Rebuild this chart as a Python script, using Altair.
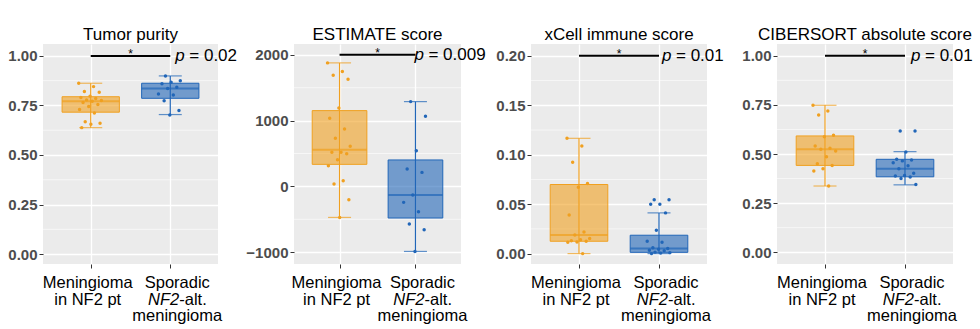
import altair as alt
import pandas as pd

# ---------------- data ----------------
group_keys = ["g1", "g2"]
titles = ["Tumor purity", "ESTIMATE score", "xCell immune score", "CIBERSORT absolute score"]
p_values = ["= 0.02", "= 0.009", "= 0.01", "= 0.01"]

purity_nf2 = [0.862, 0.845, 0.820, 0.817, 0.797, 0.790, 0.785, 0.778, 0.775, 0.771,
              0.765, 0.755, 0.745, 0.730, 0.712, 0.668, 0.660, 0.655, 0.638]
purity_spor = [0.899, 0.875, 0.867, 0.859, 0.842, 0.835, 0.808, 0.803, 0.774, 0.724, 0.702]
estimate_nf2 = [1878, 1746, 1690, 1630, 1193, 1035, 873, 731, 609, 518, 518, 497,
                406, 315, 87, 36, -202, -472]
estimate_spor = [1289, 1066, 543, 264, 213, -131, -243, -385, -572, -659, -989]
xcell_nf2 = [0.1166, 0.1088, 0.0925, 0.0709, 0.0672, 0.0391, 0.0219, 0.0189, 0.0152,
             0.0140, 0.0130, 0.0125, 0.0118, 0.0115, 0.0]
xcell_spor = [0.0545, 0.0545, 0.0500, 0.0500, 0.0412, 0.0236, 0.0125, 0.0115, 0.0060,
              0.0051, 0.0045, 0.0035, 0.0030, 0.0015, 0.0010, 0.0005, 0.0]
cib_nf2 = [0.748, 0.719, 0.699, 0.595, 0.588, 0.541, 0.529, 0.524, 0.515, 0.486,
           0.450, 0.442, 0.425, 0.413, 0.337]
cib_spor = [0.617, 0.617, 0.510, 0.473, 0.470, 0.465, 0.456, 0.440, 0.425, 0.402,
            0.390, 0.388, 0.383, 0.375, 0.345]

# box stats: lower whisker, q1, median, q3, upper whisker
purity_box = [[0.638, 0.716, 0.771, 0.794, 0.862], [0.704, 0.786, 0.835, 0.862, 0.899]]
estimate_box = [[-472, 335, 559, 1152, 1878], [-989, -481, -131, 402, 1289]]
xcell_box = [[0.0, 0.0125, 0.0189, 0.0699, 0.1166], [0.0, 0.0013, 0.0051, 0.0186, 0.0412]]
cib_box = [[0.337, 0.442, 0.524, 0.592, 0.748], [0.343, 0.384, 0.425, 0.473, 0.512]]

y_ticks = [[0, 0.25, 0.5, 0.75, 1.0], [-1000, 0, 1000, 2000],
           [0, 0.05, 0.10, 0.15, 0.20], [0, 0.25, 0.5, 0.75, 1.0]]
y_minor = [[0.125, 0.375, 0.625, 0.875], [-500, 500, 1500],
           [0.025, 0.075, 0.125, 0.175], [0.125, 0.375, 0.625, 0.875]]
y_domains = [[-0.05, 1.06], [-1180, 2165], [-0.0105, 0.212], [-0.06, 1.06]]
y_formats = [".2f", "d", ".2f", ".2f"]
sig_level = [1.0, 2000, 0.2, 1.0]

points_all = [(purity_nf2, purity_spor), (estimate_nf2, estimate_spor),
              (xcell_nf2, xcell_spor), (cib_nf2, cib_spor)]
boxes_all = [purity_box, estimate_box, xcell_box, cib_box]

# ---------------- style ----------------
ORANGE = "#F0A020"
BLUE = "#2166B8"
FONT = "Liberation Sans"
H = 220
widths = [175, 167, 176, 176]
p_dx = [5, -1, 3, 6]
LAB_FS = 16.5

color_scale = alt.Scale(domain=group_keys, range=[ORANGE, BLUE])


def panel(k):
    W = widths[k]
    step = W / 2.2
    xs = alt.Scale(type="point", domain=group_keys, padding=0.6)
    ys = alt.Scale(domain=y_domains[k], nice=False, zero=False)

    nf2, spor = points_all[k]
    rows = []
    for g, vals in zip(group_keys, [nf2, spor]):
        for i, v in enumerate(vals):
            jit = (((i * 0.6180339887 + (0.3 if g == "g2" else 0.0)) % 1.0) - 0.5) * 24
            rows.append({"group": g, "value": v, "jit": jit})
    pts = pd.DataFrame(rows)

    bx = boxes_all[k]
    box_df = pd.DataFrame({
        "group": group_keys,
        "lo": [bx[0][0], bx[1][0]],
        "q1": [bx[0][1], bx[1][1]],
        "med": [bx[0][2], bx[1][2]],
        "q3": [bx[0][3], bx[1][3]],
        "hi": [bx[0][4], bx[1][4]],
    })

    xenc = alt.X("group:N", scale=xs,
                 axis=alt.Axis(title=None, labels=False, ticks=True, tickSize=4,
                               tickColor="#333333", tickWidth=1, domain=False,
                               grid=True, gridColor="white", gridWidth=1.3))
    yenc_axis = alt.Axis(title=None, values=y_ticks[k], format=y_formats[k],
                         labelFont=FONT, labelFontSize=15, labelFontWeight="bold",
                         labelColor="#4D4D4D", tickColor="#333333", tickSize=4,
                         labelPadding=2, domain=False, grid=True, gridColor="white",
                         gridWidth=1.3)
    cenc = alt.Color("group:N", scale=color_scale, legend=None)

    minor_df = pd.DataFrame({"m": y_minor[k]})
    minor = alt.Chart(minor_df).mark_rule(color="white", strokeWidth=0.6).encode(
        y=alt.Y("m:Q", scale=ys, axis=yenc_axis)
    )

    base = alt.Chart(box_df)
    whisk = base.mark_rule(strokeWidth=1.2).encode(
        x=xenc, y=alt.Y("lo:Q", scale=ys), y2="hi:Q", color=cenc)
    box = base.mark_bar(fillOpacity=0.6, strokeWidth=1, width=0.72 * step).encode(
        x=xenc, y=alt.Y("q1:Q", scale=ys), y2="q3:Q",
        fill=alt.Fill("group:N", scale=color_scale, legend=None),
        stroke=alt.Stroke("group:N", scale=color_scale, legend=None))
    cap_lo = base.mark_tick(size=23, thickness=1.2).encode(
        x=xenc, y=alt.Y("lo:Q", scale=ys), color=cenc)
    cap_hi = base.mark_tick(size=23, thickness=1.2).encode(
        x=xenc, y=alt.Y("hi:Q", scale=ys), color=cenc)
    med = base.mark_tick(size=0.72 * step, thickness=2).encode(
        x=xenc, y=alt.Y("med:Q", scale=ys), color=cenc)

    dots = alt.Chart(pts).mark_circle(size=12, opacity=1).encode(
        x=xenc,
        xOffset=alt.XOffset("jit:Q", scale=alt.Scale(domain=[-15, 15], range=[-15, 15])),
        y=alt.Y("value:Q", scale=ys),
        color=cenc)

    sig_df = pd.DataFrame({"a": ["g1"], "b": ["g2"], "lvl": [sig_level[k]],
                           "p": ["p"], "pv": [p_values[k]]})
    sig = alt.Chart(sig_df)
    bar = sig.mark_rule(color="black", strokeWidth=2).encode(
        x=alt.X("a:N", scale=xs), x2="b:N", y=alt.Y("lvl:Q", scale=ys))
    star = sig.mark_text(text="*", fontSize=12, font=FONT, baseline="middle", dy=-2,
                         color="black").encode(
        x=alt.value(W / 2), y=alt.Y("lvl:Q", scale=ys))
    ptxt = sig.mark_text(fontSize=17, font=FONT, fontStyle="italic", align="left",
                         baseline="middle", dx=p_dx[k], color="black").encode(
        x=alt.X("b:N", scale=xs), y=alt.Y("lvl:Q", scale=ys), text="p:N")
    pval = sig.mark_text(fontSize=17, font=FONT, align="left",
                         baseline="middle", dx=p_dx[k] + 14, color="black").encode(
        x=alt.X("b:N", scale=xs), y=alt.Y("lvl:Q", scale=ys), text="pv:N")

    lab_df = pd.DataFrame({"group": group_keys,
                           "l1": ["Meningioma", "Sporadic"],
                           "l3": ["", "meningioma"]})
    lab = alt.Chart(lab_df)
    l1a = lab.transform_filter("datum.group == 'g1'")
    l1b = lab.transform_filter("datum.group == 'g2'")
    txt = dict(fontSize=LAB_FS, font=FONT, color="black", baseline="alphabetic")
    t1a = l1a.mark_text(dx=-3, **txt).encode(
        x=alt.X("group:N", scale=xs), y=alt.value(H + 24), text="l1:N")
    t2a = l1a.mark_text(dx=-3, text="in NF2 pt", **txt).encode(
        x=alt.X("group:N", scale=xs), y=alt.value(H + 40.5))
    t1b = l1b.mark_text(dx=7, **txt).encode(
        x=alt.X("group:N", scale=xs), y=alt.value(H + 24), text="l1:N")
    t2b1 = l1b.mark_text(fontStyle="italic", align="right", dx=9, text="NF2", **txt).encode(
        x=alt.X("group:N", scale=xs), y=alt.value(H + 40.5))
    t2b2 = l1b.mark_text(align="left", dx=9, text="-alt.", **txt).encode(
        x=alt.X("group:N", scale=xs), y=alt.value(H + 40.5))
    t3b = l1b.mark_text(dx=7, **txt).encode(
        x=alt.X("group:N", scale=xs), y=alt.value(H + 57), text="l3:N")

    return alt.layer(minor, whisk, box, cap_lo, cap_hi, med, dots, bar, star, ptxt, pval,
                     t1a, t2a, t1b, t2b1, t2b2, t3b).properties(
        width=W, height=H,
        title=alt.TitleParams(titles[k], fontSize=17, font=FONT, fontWeight="normal",
                              color="black", anchor="middle", offset=0))


p1, p2, p3, p4 = [panel(k) for k in range(4)]
chart = alt.hconcat(
    p1, alt.hconcat(p2, p3, p4, spacing=70, bounds="flush"),
    spacing=76, bounds="flush"
).properties(
    padding={"left": 7, "top": 26, "right": 0, "bottom": 0}
).configure(font=FONT).configure_view(fill="#EBEBEB", strokeWidth=0)

chart.save("out.html", embed_options={"renderer": "svg", "actions": False})
